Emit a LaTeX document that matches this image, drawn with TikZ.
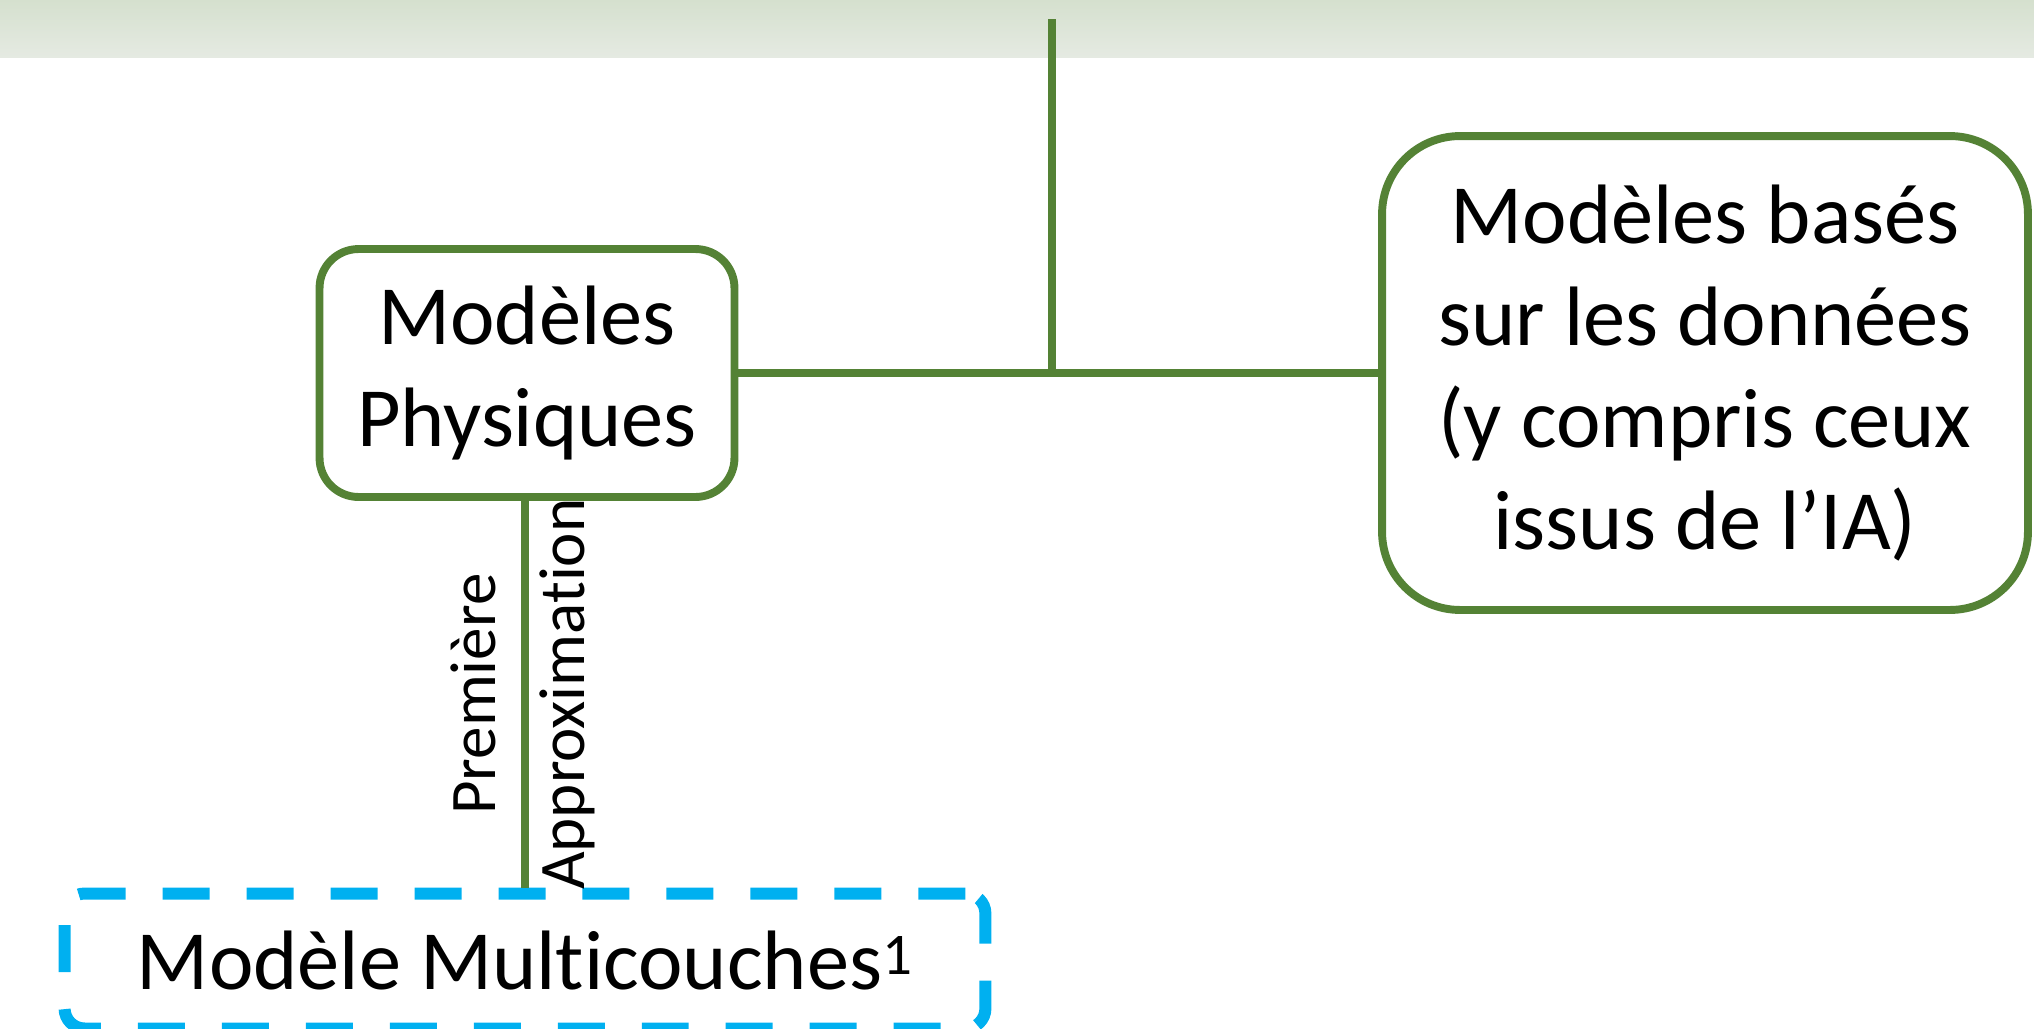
\documentclass[tikz,border=0pt]{standalone}
\usepackage{fontspec}
\setmainfont{Carlito}[Ligatures=NoCommon]
\usetikzlibrary{positioning}
\definecolor{lienvert}{HTML}{548235}
\definecolor{bleupointille}{HTML}{00B0F0}
\definecolor{bandeauhaut}{RGB}{213,224,206}
\definecolor{bandeaubas}{RGB}{229,234,226}

\begin{document}
\begin{tikzpicture}[x=0.02cm,y=-0.02cm]
\tikzset{
  modele/.style={draw=lienvert, line width=4.5pt, rounded corners=0.78cm, align=center, font=\fontsize{48}{58}\selectfont},
  lien/.style={draw=lienvert, line width=4.5pt},
  etiquette/.style={rotate=90, font=\fontsize{37}{44}\selectfont}
}
\useasboundingbox (0,0) rectangle (2034,1028);
\shade[top color=bandeauhaut, bottom color=bandeaubas] (0,0) rectangle (2034,57);
\node[modele, minimum width=8.3cm, minimum height=4.96cm] (phys) at (527,373) {Modèles\\Physiques};
\node[modele, rounded corners=1.56cm, minimum width=12.92cm, minimum height=9.48cm] (donnees) at (1705,373) {Modèles basés\\sur les données\\(y compris ceux\\issus de l’IA)};
\node[draw=bleupointille, line width=0.24cm, dash pattern=on 0.94cm off 0.74cm, rounded corners=0.4cm, minimum width=18.42cm, minimum height=2.7cm, font=\fontsize{48}{58}\selectfont] (multi) at (525,961) {Modèle Multicouches\textsuperscript{1}};
\coordinate (haut) at (1052,19);
\draw[lien] (phys) -- (donnees);
\draw[lien] (haut) -- (haut |- phys);
\draw[lien] (phys.south -| multi) -- (multi.north)
  node[etiquette, midway, anchor=south, inner ysep=0.5cm] {Première}
  node[etiquette, midway, anchor=north, inner ysep=0.22cm] {Approximation};
\end{tikzpicture}
\end{document}
